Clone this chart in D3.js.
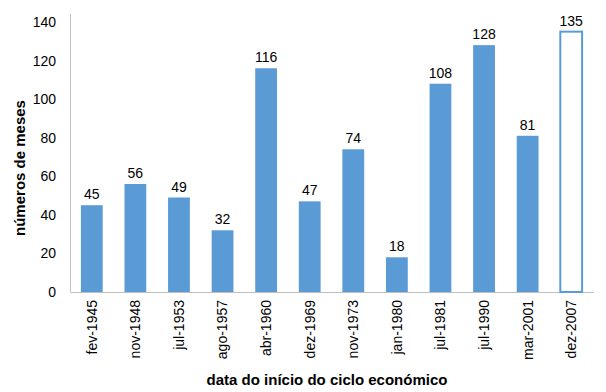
<!DOCTYPE html>
<meta charset="utf-8">
<style>
body { margin: 0; background: #fff; }
text { font-family: "Liberation Sans", Arial, sans-serif; fill: #000; }
</style>
<body>
<svg width="606" height="392"></svg>
<script src="https://d3js.org/d3.v7.min.js"></script>
<script>

var categories = ["fev-1945", "nov-1948", "jul-1953", "ago-1957", "abr-1960", "dez-1969",
                  "nov-1973", "jan-1980", "jul-1981", "jul-1990", "mar-2001", "dez-2007"];
var months = [45, 56, 49, 32, 116, 47, 74, 18, 108, 128, 81, 135];
var yTicks = [0, 20, 40, 60, 80, 100, 120, 140];

var svg = d3.select("svg"),
    margin = {top: 22, right: 13, bottom: 100, left: 70},
    width = 606 - margin.left - margin.right,
    height = 392 - margin.top - margin.bottom;

var g = svg.append("g")
    .attr("transform", "translate(" + margin.left + "," + margin.top + ")");

var x = d3.scaleBand().domain(categories).range([0, width]).paddingInner(0.5).paddingOuter(0.25);
var y = d3.scaleLinear().domain([0, 140]).range([height, 0]);

// axes
var yAxis = g.append("g")
    .call(d3.axisLeft(y).tickValues(yTicks).tickSize(0).tickPadding(14));
yAxis.select(".domain").attr("stroke", "#bfbfbf").attr("d", "M0.5,-8V" + height);
yAxis.selectAll("text").attr("font-size", "14px").attr("font-family", "Liberation Sans, Arial, sans-serif");

var xAxis = g.append("g")
    .attr("transform", "translate(0," + height + ")")
    .call(d3.axisBottom(x).tickSize(0).tickPadding(8));
xAxis.select(".domain").attr("stroke", "#bfbfbf");
xAxis.selectAll("text")
    .attr("font-size", "14px")
    .attr("font-family", "Liberation Sans, Arial, sans-serif")
    .attr("transform", "rotate(-90)")
    .attr("text-anchor", "end")
    .attr("dy", "0.35em")
    .attr("x", -8)
    .attr("y", 0);

// bars
g.selectAll(".bar")
    .data(months)
  .enter().append("rect")
    .attr("class", "bar")
    .attr("x", function(d, i) { return x(categories[i]); })
    .attr("width", x.bandwidth())
    .attr("y", function(d) { return y(d); })
    .attr("height", function(d) { return height - y(d); })
    .attr("fill", function(d, i) { return i === months.length - 1 ? "#fff" : "#5b9bd5"; })
    .attr("stroke", function(d, i) { return i === months.length - 1 ? "#5b9bd5" : "none"; })
    .attr("stroke-width", 2);

// value labels
g.selectAll(".val")
    .data(months)
  .enter().append("text")
    .attr("class", "val")
    .attr("x", function(d, i) { return x(categories[i]) + x.bandwidth() / 2; })
    .attr("y", function(d) { return y(d) - 6; })
    .attr("text-anchor", "middle")
    .attr("font-size", "14px")
    .text(function(d) { return d; });

// titles
svg.append("text")
    .attr("transform", "translate(25,168) rotate(-90)")
    .attr("text-anchor", "middle")
    .attr("font-size", "15px")
    .attr("font-weight", "bold")
    .text("números de meses");

svg.append("text")
    .attr("x", 327)
    .attr("y", 385)
    .attr("text-anchor", "middle")
    .attr("font-size", "15px")
    .attr("font-weight", "bold")
    .text("data do início do ciclo económico");

</script>
</body>
